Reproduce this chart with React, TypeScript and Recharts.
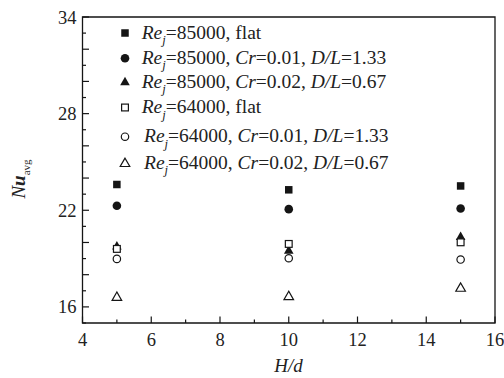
import { ScatterChart, Scatter, XAxis, YAxis, ReferenceArea, Legend } from "recharts"

// H/d positions
const hd = [5, 10, 15]

// Nu_avg values
const re85Flat = [23.6, 23.27, 23.51]
const re85Cr01 = [22.28, 22.07, 22.11]
const re85Cr02 = [19.77, 19.5, 20.36]
const re64Flat = [19.6, 19.91, 20.01]
const re64Cr01 = [18.98, 19.02, 18.94]
const re64Cr02 = [16.6, 16.65, 17.17]

// legend text pieces
const legendRe = ["85000", "85000", "85000", "64000", "64000", "64000"]
const legendCr = [null, "0.01", "0.02", null, "0.01", "0.02"]
const legendDL = [null, "1.33", "0.67", null, "1.33", "0.67"]

const xTicks = [4, 5, 6, 7, 8, 9, 10, 11, 12, 13, 14, 15, 16]
const xLabels = [4, 6, 8, 10, 12, 14, 16]
const yTicks = [15, 16, 17, 18, 19, 20, 21, 22, 23, 24, 25, 26, 27, 28, 29, 30, 31, 32, 33, 34]
const yLabels = [16, 22, 28, 34]

const FONT = "Liberation Serif, DejaVu Serif, serif"
const INK = "#151515"

type Kind = "square" | "circle" | "triangle"

const series: { values: number[]; kind: Kind; filled: boolean }[] = [
  { values: re85Flat, kind: "square", filled: true },
  { values: re85Cr01, kind: "circle", filled: true },
  { values: re85Cr02, kind: "triangle", filled: true },
  { values: re64Flat, kind: "square", filled: false },
  { values: re64Cr01, kind: "circle", filled: false },
  { values: re64Cr02, kind: "triangle", filled: false },
]

const Marker = ({ cx, cy, kind, filled }: { cx: number; cy: number; kind: Kind; filled: boolean }) => {
  const fill = filled ? INK : "#fff"
  const sw = filled ? 0 : 1.2
  if (kind === "square") {
    const s = filled ? 7.5 : 6.8
    return <rect x={cx - s / 2} y={cy - s / 2} width={s} height={s} fill={fill} stroke={INK} strokeWidth={sw} />
  }
  if (kind === "circle") {
    return <circle cx={cx} cy={cy} r={filled ? 4.3 : 3.7} fill={fill} stroke={INK} strokeWidth={sw} />
  }
  const pts = `${cx},${cy - 5.2} ${cx - 4.8},${cy + 3.2} ${cx + 4.8},${cy + 3.2}`
  return <polygon points={pts} fill={fill} stroke={INK} strokeWidth={sw} strokeLinejoin="miter" />
}

const XTick = ({ x, y, payload }: any) => {
  const v = payload.value
  const major = xLabels.includes(v)
  return (
    <g>
      <line x1={x} y1={y} x2={x} y2={y - (major ? 6.5 : 3.5)} stroke={INK} strokeWidth={1.2} />
      {major && (
        <text x={x} y={y + 23} textAnchor="middle" fontFamily={FONT} fontSize={18.5} fill="#222">
          {v}
        </text>
      )}
    </g>
  )
}

const YTick = ({ x, y, payload }: any) => {
  const v = payload.value
  const major = v % 2 === 0
  return (
    <g>
      <line x1={x} y1={y} x2={x + (major ? 6.5 : 3.5)} y2={y} stroke={INK} strokeWidth={1.2} />
      {yLabels.includes(v) && (
        <text x={x - 6} y={y + 6.5} textAnchor="end" fontFamily={FONT} fontSize={18.5} fill="#222">
          {v}
        </text>
      )}
    </g>
  )
}

const legendRowY = [33, 58.3, 82, 107.5, 136.7, 163.3]
const legendTextX = [141.7, 141.7, 141.7, 141.7, 144, 144]

const LegendBox = () => (
  <svg width={504} height={180} style={{ display: "block" }}>
    {series.map((s, i) => {
      const cy = legendRowY[i]
      return (
        <g key={i}>
          <Marker cx={125} cy={cy} kind={s.kind} filled={s.filled} />
          <text x={legendTextX[i]} y={cy + 5.5} fontFamily={FONT} fontSize={19.5} fill="#222">
            <tspan fontStyle="italic">Re</tspan>
            <tspan fontStyle="italic" fontSize={12.5} dy={5.5}>j</tspan>
            <tspan dy={-5.5}>={legendRe[i]}, </tspan>
            {legendCr[i] === null ? (
              <tspan>flat</tspan>
            ) : (
              <>
                <tspan fontStyle="italic">Cr</tspan>
                <tspan>={legendCr[i]}, </tspan>
                <tspan fontStyle="italic">D/L</tspan>
                <tspan>={legendDL[i]}</tspan>
              </>
            )}
          </text>
        </g>
      )
    })}
  </svg>
)

export default function App() {
  return (
    <div style={{ position: "absolute", left: 0, top: 0, width: 504, height: 378, background: "#fff", fontFamily: FONT }}>
      <ScatterChart width={504} height={378} margin={{ top: 17, right: 9, bottom: 0, left: 0 }}>
        <XAxis
          type="number"
          dataKey="x"
          domain={[4, 16]}
          ticks={xTicks}
          interval={0}
          height={55}
          axisLine={false}
          tickLine={false}
          tickSize={0}
          tickMargin={0}
          tick={<XTick />}
          label={{
            content: () => (
              <text x={288.5} y={372} textAnchor="middle" fontFamily={FONT} fontSize={19} fontStyle="italic" fill="#222">
                H/d
              </text>
            ),
          }}
        />
        <YAxis
          type="number"
          dataKey="y"
          domain={[15, 34]}
          ticks={yTicks}
          interval={0}
          width={82.5}
          axisLine={false}
          tickLine={false}
          tickSize={0}
          tickMargin={0}
          tick={<YTick />}
          label={{
            content: () => (
              <text
                transform="translate(25,179) rotate(-90)"
                textAnchor="middle"
                fontFamily={FONT}
                fontSize={19}
                fill="#222"
              >
                <tspan fontStyle="italic">N</tspan>
                <tspan fontStyle="italic" fontWeight="bold">u</tspan>
                <tspan fontSize={11} dy={5}>avg</tspan>
              </text>
            ),
          }}
        />
        <ReferenceArea x1={4} x2={16} y1={15} y2={34} fill="none" stroke={INK} strokeWidth={1.3} ifOverflow="visible" />
        {series.map((s, i) => (
          <Scatter
            key={i}
            data={hd.map((x, j) => ({ x, y: s.values[j] }))}
            isAnimationActive={false}
            shape={(p: any) => <Marker cx={p.cx} cy={p.cy} kind={s.kind} filled={s.filled} />}
          />
        ))}
        <Legend
          layout="horizontal"
          verticalAlign="middle"
          align="center"
          wrapperStyle={{ left: 0, top: 0, width: 504, height: 180 }}
          content={() => <LegendBox />}
        />
      </ScatterChart>
    </div>
  )
}
